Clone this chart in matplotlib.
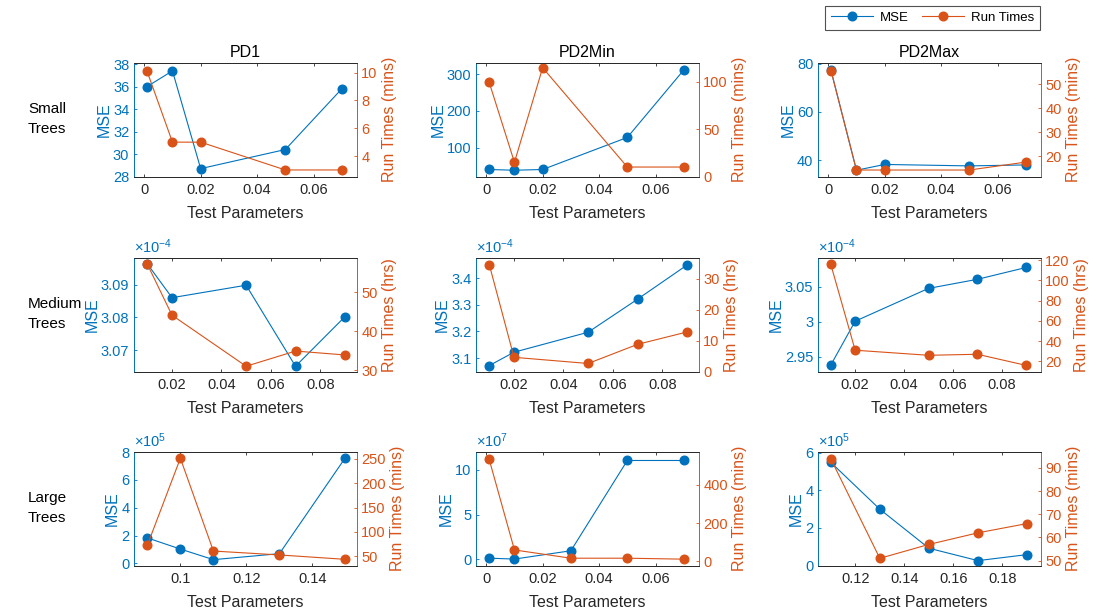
import matplotlib
matplotlib.use("Agg")
import matplotlib.pyplot as plt
from matplotlib.lines import Line2D
from matplotlib.ticker import FuncFormatter, FixedLocator

plt.rcParams['font.family'] = ['Liberation Sans', 'DejaVu Sans']
plt.rcParams['mathtext.fontset'] = 'custom'
plt.rcParams['mathtext.rm'] = 'Liberation Sans'
plt.rcParams['mathtext.it'] = 'Liberation Sans'

# ---------------- data ----------------
row_labels = ["Small\nTrees", "Medium\nTrees", "Large\nTrees"]
col_titles = ["PD1", "PD2Min", "PD2Max"]
rt_units = ["Run Times (mins)", "Run Times (hrs)", "Run Times (mins)"]
legend_labels = ["MSE", "Run Times"]
xlabel = "Test Parameters"

x_small = [0.001, 0.01, 0.02, 0.05, 0.07]
mse_small_pd1 = [36.0, 37.4, 28.7, 30.4, 35.8]
rt_small_pd1 = [10.1, 5.0, 5.0, 3.0, 3.0]
mse_small_pd2min = [41, 39, 41, 128, 311]
rt_small_pd2min = [100, 15, 115, 10, 10]
mse_small_pd2max = [77.2, 35.8, 38.2, 37.6, 38.0]
rt_small_pd2max = [55.5, 14.2, 14.2, 14.2, 17.5]

x_medium = [0.01, 0.02, 0.05, 0.07, 0.09]
mse_medium_pd1 = [3.0963e-4, 3.0860e-4, 3.0898e-4, 3.0651e-4, 3.0802e-4]
rt_medium_pd1 = [57.2, 44.1, 31.0, 34.9, 33.9]
mse_medium_pd2min = [3.072e-4, 3.122e-4, 3.197e-4, 3.321e-4, 3.449e-4]
rt_medium_pd2min = [34.6, 4.6, 2.6, 8.8, 12.8]
mse_medium_pd2max = [2.938e-4, 3.001e-4, 3.048e-4, 3.061e-4, 3.078e-4]
rt_medium_pd2max = [116, 31, 26, 27, 16]

x_large_pd1 = [0.09, 0.10, 0.11, 0.13, 0.15]
mse_large_pd1 = [1.83e5, 1.03e5, 0.27e5, 0.70e5, 7.6e5]
rt_large_pd1 = [73, 251, 61, 53, 44]
x_large_pd2min = [0.001, 0.01, 0.03, 0.05, 0.07]
mse_large_pd2min = [0.12e7, 0.02e7, 0.95e7, 11.05e7, 11.05e7]
rt_large_pd2min = [534, 60, 17, 17, 12]
x_large_pd2max = [0.11, 0.13, 0.15, 0.17, 0.19]
mse_large_pd2max = [5.5e5, 3.0e5, 0.92e5, 0.26e5, 0.58e5]
rt_large_pd2max = [94, 51, 57, 62, 66]

# ---------------- per-panel configuration ----------------
panels = [
    # row 0
    dict(x=x_small, mse=mse_small_pd1, rt=rt_small_pd1, xlim=(-0.0038, 0.0754), xt=[0, 0.02, 0.04, 0.06],
         yl=(28, 38.1), ylt=[28, 30, 32, 34, 36, 38], yr=(2.53, 10.69), yrt=[4, 6, 8, 10], exp=0),
    dict(x=x_small, mse=mse_small_pd2min, rt=rt_small_pd2min, xlim=(-0.0038, 0.0754), xt=[0, 0.02, 0.04, 0.06],
         yl=(22, 330), ylt=[100, 200, 300], yr=(0, 120), yrt=[0, 50, 100], exp=0),
    dict(x=x_small, mse=mse_small_pd2max, rt=rt_small_pd2max, xlim=(-0.0038, 0.0754), xt=[0, 0.02, 0.04, 0.06],
         yl=(33.2, 80.3), ylt=[40, 60, 80], yr=(11.5, 58.8), yrt=[20, 30, 40, 50], exp=0),
    # row 1
    dict(x=x_medium, mse=mse_medium_pd1, rt=rt_medium_pd1, xlim=(0.0044, 0.0949), xt=[0.02, 0.04, 0.06, 0.08],
         yl=(3.0635e-4, 3.0981e-4), ylt=[3.07e-4, 3.08e-4, 3.09e-4], yr=(29.65, 58.8), yrt=[30, 40, 50], exp=-4),
    dict(x=x_medium, mse=mse_medium_pd2min, rt=rt_medium_pd2min, xlim=(0.0044, 0.0949), xt=[0.02, 0.04, 0.06, 0.08],
         yl=(3.0496e-4, 3.4757e-4), ylt=[3.1e-4, 3.2e-4, 3.3e-4, 3.4e-4], yr=(0, 36.8), yrt=[0, 10, 20, 30], exp=-4),
    dict(x=x_medium, mse=mse_medium_pd2max, rt=rt_medium_pd2max, xlim=(0.0046, 0.0960), xt=[0.02, 0.04, 0.06, 0.08],
         yl=(2.929e-4, 3.0915e-4), ylt=[2.95e-4, 3.0e-4, 3.05e-4], yr=(10, 122), yrt=[20, 40, 60, 80, 100, 120], exp=-4),
    # row 2
    dict(x=x_large_pd1, mse=mse_large_pd1, rt=rt_large_pd1, xlim=(0.0858, 0.1535), xt=[0.1, 0.12, 0.14],
         yl=(-0.15e5, 8.0e5), ylt=[0, 2e5, 4e5, 6e5, 8e5], yr=(31.4, 263.8), yrt=[50, 100, 150, 200, 250], exp=5),
    dict(x=x_large_pd2min, mse=mse_large_pd2min, rt=rt_large_pd2min, xlim=(-0.0038, 0.0754), xt=[0, 0.02, 0.04, 0.06],
         yl=(-0.07e8, 1.2e8), ylt=[0, 5e7, 10e7], yr=(-21, 570), yrt=[0, 200, 400], exp=7),
    dict(x=x_large_pd2max, mse=mse_large_pd2max, rt=rt_large_pd2max, xlim=(0.1046, 0.1957), xt=[0.12, 0.14, 0.16, 0.18],
         yl=(0, 6.05e5), ylt=[0, 2e5, 4e5, 6e5], yr=(47.9, 96.9), yrt=[50, 60, 70, 80, 90], exp=5),
]

# ---------------- style ----------------
BLUE = '#0072BD'
ORANGE = '#D95319'
DARK = '#262626'
FS_TICK = 10.5
FS_LABEL = 11.5

fig = plt.figure(figsize=(11, 6.11), dpi=100)

col_x = [133.5 / 1100, 475.5 / 1100, 817.5 / 1100]
ax_w = 223.5 / 1100
row_top_px = [63, 258, 452]
ax_h_px = 113.5


def fmt_g(scale):
    def f(v, pos):
        return '%g' % round(v / scale, 6)
    return f


for i, p in enumerate(panels):
    r, c = divmod(i, 3)
    bottom = 1 - (row_top_px[r] + ax_h_px) / 611
    ax = fig.add_axes([col_x[c], bottom, ax_w, ax_h_px / 611])
    ax2 = ax.twinx()

    ax.plot(p['x'], p['mse'], '-o', color=BLUE, lw=0.8, ms=6.2, mfc=BLUE, mec=BLUE)
    ax2.plot(p['x'], p['rt'], '-o', color=ORANGE, lw=0.8, ms=6.2, mfc=ORANGE, mec=ORANGE)

    ax.set_xlim(p['xlim'])
    ax.xaxis.set_major_locator(FixedLocator(p['xt']))
    ax.xaxis.set_major_formatter(FuncFormatter(fmt_g(1)))
    ax.set_ylim(p['yl'])
    ax.yaxis.set_major_locator(FixedLocator(p['ylt']))
    scale = 10.0 ** p['exp']
    ax.yaxis.set_major_formatter(FuncFormatter(fmt_g(scale)))
    ax2.set_ylim(p['yr'])
    ax2.yaxis.set_major_locator(FixedLocator(p['yrt']))
    ax2.yaxis.set_major_formatter(FuncFormatter(fmt_g(1)))

    for a in (ax, ax2):
        for s in a.spines.values():
            s.set_linewidth(0.6)
        a.spines['top'].set_color(DARK)
        a.spines['bottom'].set_color(DARK)
        a.spines['left'].set_color(BLUE)
        a.spines['right'].set_color(ORANGE)

    ax.tick_params(axis='x', direction='in', length=2.5, width=0.6, colors=DARK,
                   labelsize=FS_TICK, top=True, pad=5)
    ax.tick_params(axis='y', direction='in', length=2.5, width=0.6, colors=BLUE,
                   labelsize=FS_TICK, pad=3)
    ax2.tick_params(axis='y', direction='in', length=2.5, width=0.6, colors=ORANGE,
                    labelsize=FS_TICK, pad=3)

    ax.set_xlabel(xlabel, fontsize=FS_LABEL, color=DARK, labelpad=6)
    ax.set_ylabel("MSE", fontsize=FS_LABEL, color=BLUE, labelpad=1)
    ax2.set_ylabel(rt_units[r], fontsize=FS_LABEL, color=ORANGE, labelpad=3)

    if r == 0:
        ax.set_title(col_titles[c], fontsize=FS_LABEL, color='black', pad=4)

    if p['exp'] != 0:
        ax.text(0.0, 1.015, r'$\times10^{%d}$' % p['exp'], transform=ax.transAxes,
                ha='left', va='bottom', fontsize=FS_TICK, color=BLUE)

    if c == 0:
        yc = 1 - (row_top_px[r] + 56) / 611
        fig.text(28 / 1100, yc, row_labels[r], ha='left', va='center',
                 fontsize=11, color='black', linespacing=1.5)

handles = [Line2D([], [], color=BLUE, lw=0.8, marker='o', ms=6.2),
           Line2D([], [], color=ORANGE, lw=0.8, marker='o', ms=6.2)]
leg = fig.legend(handles, legend_labels, ncol=2, loc='upper left',
                 bbox_to_anchor=(825 / 1100, 1 - 5.5 / 611), fontsize=9.5,
                 frameon=True, fancybox=False, edgecolor=DARK,
                 borderpad=0.45, handlelength=3.2, handletextpad=0.5,
                 columnspacing=1.0, borderaxespad=0)
leg.get_frame().set_linewidth(0.8)

fig.savefig("out.png", dpi=100)
